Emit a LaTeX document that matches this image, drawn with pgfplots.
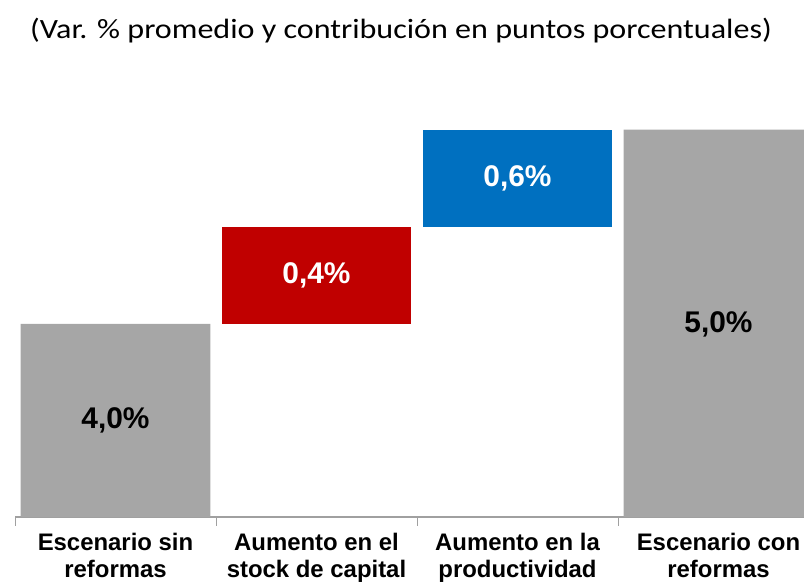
\documentclass[border=0pt]{standalone}
\usepackage{fontspec}
\setmainfont{Liberation Sans}
\newfontfamily\calibri{Carlito}
\usepackage{pgfplots}
\pgfplotsset{compat=1.18}
\definecolor{barGray}{HTML}{A6A6A6}
\definecolor{barRed}{HTML}{C00000}
\definecolor{barBlue}{HTML}{0070C0}
\definecolor{axGray}{HTML}{A0A0A0}

\begin{document}
\begin{tikzpicture}
\useasboundingbox (0,0) rectangle (804bp,584bp);
\clip (0,0) rectangle (804bp,584bp);
\node[font=\calibri\fontsize{28}{32}\selectfont] at (401bp,553bp)
  {\scalebox{1.15}[1]{(Var. \% promedio y contribución en puntos porcentuales)}};
\begin{axis}[
    at={(15bp,67bp)}, anchor=south west,
    scale only axis,
    width=804bp, height=482.5bp,
    ybar stacked,
    bar width=0.945,
    xmin=-0.5, xmax=3.5,
    ymin=0, ymax=10,
    axis x line*=bottom,
    axis y line=none,
    axis line style={-, draw=axGray, line width=1.5bp},
    xtick={0,1,2,3},
    xticklabels={{Escenario sin\\reformas},{Aumento en el\\stock de capital},{Aumento en la\\productividad},{Escenario con\\reformas}},
    major tick length=0pt,
    minor xtick={-0.5,0.5,1.5,2.5,3.5},
    minor tick length=9bp,
    tick align=outside,
    minor tick style={draw=axGray, line width=1bp},
    xticklabel style={align=center, font=\bfseries\fontsize{24}{26.5}\selectfont, yshift=-13bp},
    clip=false,
]
% invisible base
\addplot[draw=none, fill=none] coordinates {(0,0) (1,4) (2,6) (3,0)};
\addplot[fill=barGray, draw=none] coordinates {(0,4) (1,0) (2,0) (3,8.03)};
\addplot[fill=barRed, draw=none] coordinates {(0,0) (1,2) (2,0) (3,0)};
\addplot[fill=barBlue, draw=none] coordinates {(0,0) (1,0) (2,2.03) (3,0)};
\coordinate (l1) at (axis cs:0,2);
\coordinate (l2) at (axis cs:1,5);
\coordinate (l3) at (axis cs:2,7.02);
\coordinate (l4) at (axis cs:3,4);
\end{axis}
\tikzset{lab/.style={font=\bfseries\fontsize{30}{30}\selectfont}}
\node[lab] at (l1) {4,0\%};
\node[lab, text=white] at (l2) {0,4\%};
\node[lab, text=white] at (l3) {0,6\%};
\node[lab] at (l4) {5,0\%};
\end{tikzpicture}
\end{document}
